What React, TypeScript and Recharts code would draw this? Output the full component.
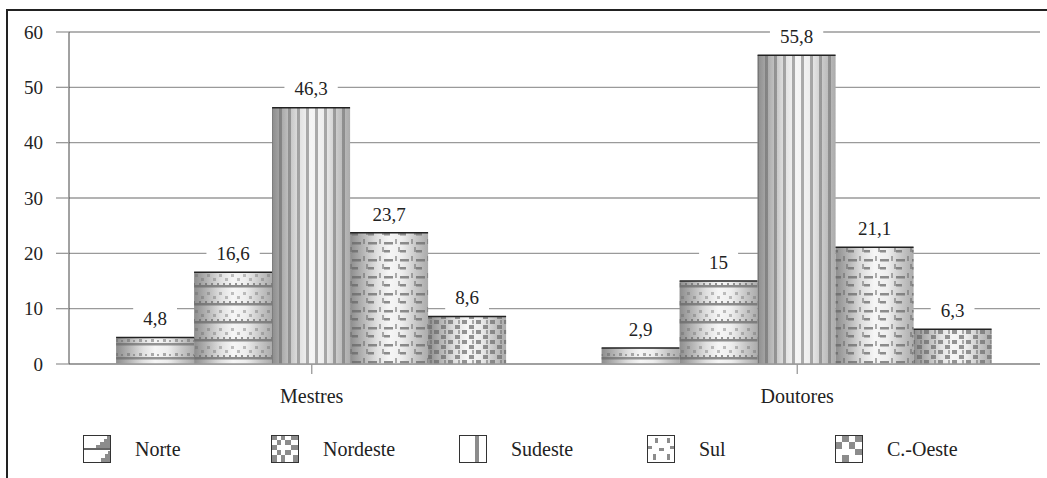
import React from 'react';
import { BarChart, Bar, XAxis, YAxis, CartesianGrid, LabelList, Legend } from 'recharts';

const categories = ['Mestres', 'Doutores'];
const seriesNames = ['Norte', 'Nordeste', 'Sudeste', 'Sul', 'C.-Oeste'];
const seriesKeys = ['norte', 'nordeste', 'sudeste', 'sul', 'coeste'];
const norte = [4.8, 2.9];
const nordeste = [16.6, 15];
const sudeste = [46.3, 55.8];
const sul = [23.7, 21.1];
const cOeste = [8.6, 6.3];
const yTicks = [0, 10, 20, 30, 40, 50, 60];

const seriesValues = [norte, nordeste, sudeste, sul, cOeste];
const data = categories.map((c, i) => {
  const row: any = { name: c };
  seriesKeys.forEach((k, j) => { row[k] = seriesValues[j][i]; });
  return row;
});

const FONT = 'Liberation Serif';
const MARK = '#7a7a7a';

const makeShape = (pid: string) => (p: any) => {
  const { x, y, width, height } = p;
  if (!height || height <= 0) return <g />;
  return (
    <g>
      <rect x={x} y={y} width={width} height={height} fill="url(#cyl)" />
      <rect x={x} y={y} width={width} height={height} fill={`url(#pat-${pid})`} />
      <rect x={x} y={y} width={width} height={height} fill="url(#shade)" />
      <line x1={x} x2={x + width} y1={y} y2={y} stroke="#222" strokeWidth={1.5} />
    </g>
  );
};

const renderLabel = (props: any) => {
  const { x, y, width, value } = props;
  const s = String(value).replace('.', ',');
  const tw = s.split('').reduce((a: number, ch: string) => a + (ch === ',' ? 4.8 : 9.5), 0);
  const bw = tw + 20;
  const bh = 26;
  const cx = Number(x) + Number(width) / 2;
  const cy = Number(y) - 19;
  return (
    <g>
      <rect x={cx - bw / 2} y={cy - bh / 2} width={bw} height={bh} fill="#fff" />
      <text x={cx} y={cy} dy="0.35em" textAnchor="middle" style={{ fontFamily: FONT }} fontSize={19} fill="#222">
        {s}
      </text>
    </g>
  );
};

const LegendIcon = ({ k }: { k: string }) => {
  const g = '#8c8c8c';
  let inner: React.ReactNode = null;
  if (k === 'norte') {
    inner = (
      <g fill={g}>
        <polygon points="27,1 27,13 13,13 13,10 17,10 17,7 21,7 21,4 24,4 24,1" />
        <rect x={1} y={13} width={26} height={2} fill="#666" />
        <polygon points="27,16 27,27 18,27 18,23 22,23 22,19 25,19 25,16" />
      </g>
    );
  } else if (k === 'nordeste') {
    inner = (
      <g fill={g}>
        <rect x={1} y={1} width={5} height={4} />
        <rect x={10} y={1} width={4} height={4} />
        <rect x={20} y={1} width={7} height={4} />
        <rect x={6} y={5} width={4} height={5} />
        <rect x={14} y={5} width={6} height={5} />
        <rect x={1} y={10} width={5} height={5} />
        <rect x={20} y={10} width={7} height={5} />
        <rect x={6} y={15} width={4} height={5} />
        <rect x={14} y={15} width={6} height={5} />
        <rect x={1} y={20} width={5} height={7} />
        <rect x={10} y={20} width={4} height={7} />
        <rect x={22} y={20} width={5} height={7} />
      </g>
    );
  } else if (k === 'sudeste') {
    inner = <rect x={16} y={1} width={4} height={26} fill={g} />;
  } else if (k === 'sul') {
    inner = (
      <g fill={g}>
        <rect x={8} y={3} width={3} height={5} />
        <rect x={20} y={3} width={3} height={5} />
        <rect x={1} y={11} width={4} height={3} />
        <rect x={23} y={11} width={4} height={3} />
        <rect x={12} y={13} width={5} height={3} />
        <rect x={6} y={19} width={3} height={6} />
        <rect x={20} y={19} width={3} height={6} />
      </g>
    );
  } else {
    inner = (
      <g fill={g}>
        <rect x={7} y={1} width={7} height={6} />
        <rect x={20} y={1} width={7} height={6} />
        <rect x={1} y={7} width={6} height={7} />
        <rect x={14} y={7} width={6} height={7} />
        <rect x={20} y={14} width={7} height={6} />
        <rect x={7} y={20} width={7} height={7} />
      </g>
    );
  }
  return (
    <svg width={28} height={28} style={{ display: 'block' }}>
      <rect x={0.5} y={0.5} width={27} height={27} fill="#fff" stroke="#333" strokeWidth={1} />
      {inner}
      <rect x={0.5} y={0.5} width={27} height={27} fill="none" stroke="#333" strokeWidth={1} />
    </svg>
  );
};

const renderLegend = () => (
  <div style={{ display: 'flex', alignItems: 'center', height: 50, paddingLeft: 83, boxSizing: 'border-box' }}>
    {seriesNames.map((n, i) => (
      <div key={n} style={{ width: 188, display: 'flex', alignItems: 'center' }}>
        <LegendIcon k={seriesKeys[i]} />
        <span style={{ marginLeft: 24, fontFamily: FONT, fontSize: 20, color: '#222' }}>{n}</span>
      </div>
    ))}
  </div>
);

const yTickStyle = { fontSize: 19, fill: '#222', style: { fontFamily: FONT } };
const xTickStyle = { fontSize: 20, fill: '#222', style: { fontFamily: FONT } };

export default function App() {
  return (
    <div style={{ position: 'absolute', left: 0, top: 0, width: 1047, height: 478, overflow: 'hidden', background: '#fff', fontFamily: FONT }}>
      <BarChart
        width={1047}
        height={478}
        data={data}
        margin={{ top: 32, right: 7, bottom: 4, left: 0 }}
        barCategoryGap="9.7%"
        barGap={0}
      >
        <defs>
          <linearGradient id="cyl" x1="0" y1="0" x2="1" y2="0">
            <stop offset="0" stopColor="#a0a0a0" />
            <stop offset="0.12" stopColor="#b8b8b8" />
            <stop offset="0.3" stopColor="#dadada" />
            <stop offset="0.5" stopColor="#f6f6f6" />
            <stop offset="0.66" stopColor="#eeeeee" />
            <stop offset="0.85" stopColor="#cccccc" />
            <stop offset="1" stopColor="#b6b6b6" />
          </linearGradient>
          <linearGradient id="shade" x1="0" y1="0" x2="1" y2="0">
            <stop offset="0" stopColor="#000" stopOpacity={0.12} />
            <stop offset="0.35" stopColor="#000" stopOpacity={0} />
            <stop offset="0.7" stopColor="#000" stopOpacity={0} />
            <stop offset="1" stopColor="#000" stopOpacity={0.06} />
          </linearGradient>
          <pattern id="pat-norte" patternUnits="userSpaceOnUse" width={12} height={14}>
            <rect x={0} y={7} width={12} height={2.5} fill={MARK} opacity={0.8} />
            <rect x={1} y={4} width={2} height={2} fill={MARK} opacity={0.6} />
            <rect x={7} y={3} width={3} height={3} fill={MARK} opacity={0.6} />
          </pattern>
          <pattern id="pat-nordeste" patternUnits="userSpaceOnUse" width={12} height={18}>
            <rect x={0} y={15} width={12} height={2.5} fill={MARK} opacity={0.85} />
            <rect x={1} y={13} width={2} height={2} fill={MARK} opacity={0.8} />
            <rect x={7} y={13} width={2} height={2} fill={MARK} opacity={0.8} />
            <rect x={3} y={4} width={3} height={3} fill={MARK} opacity={0.45} />
            <rect x={9} y={8} width={3} height={3} fill={MARK} opacity={0.45} />
          </pattern>
          <pattern id="pat-sudeste" patternUnits="userSpaceOnUse" width={9} height={10}>
            <rect x={0} y={0} width={3} height={10} fill="#6e6e6e" opacity={0.55} />
          </pattern>
          <pattern id="pat-sul" patternUnits="userSpaceOnUse" width={16} height={17}>
            <rect x={0} y={4} width={9} height={2.5} fill={MARK} opacity={0.85} />
            <rect x={0} y={12} width={6} height={2.5} fill={MARK} opacity={0.85} />
            <rect x={11} y={1} width={2} height={5} fill={MARK} opacity={0.6} />
            <rect x={14} y={9} width={2} height={5} fill={MARK} opacity={0.6} />
          </pattern>
          <pattern id="pat-coeste" patternUnits="userSpaceOnUse" width={14} height={10}>
            <rect x={0} y={0} width={5} height={4} fill={MARK} opacity={0.8} />
            <rect x={7} y={5} width={5} height={4} fill={MARK} opacity={0.8} />
            <rect x={10} y={0} width={2} height={4} fill={MARK} opacity={0.6} />
          </pattern>
        </defs>
        <path d="M7,478 L7,10 L1047,10" stroke="#222" strokeWidth={2} fill="none" />
        <CartesianGrid vertical={false} stroke="#9a9a9a" strokeWidth={1.3} />
        <XAxis
          dataKey="name"
          height={60}
          axisLine={{ stroke: '#9a9a9a', strokeWidth: 1.3 }}
          tickLine={{ stroke: '#9a9a9a', strokeWidth: 1.3 }}
          tickSize={10}
          tickMargin={15}
          tick={xTickStyle}
        />
        <YAxis
          width={69}
          domain={[0, 60]}
          ticks={yTicks}
          interval={0}
          axisLine={{ stroke: '#444', strokeWidth: 1 }}
          tickLine={{ stroke: '#9a9a9a', strokeWidth: 1.3 }}
          tickSize={13}
          tickMargin={13}
          tick={yTickStyle}
        />
        <Legend verticalAlign="bottom" height={50} content={renderLegend} />
        {seriesKeys.map((k, i) => (
          <Bar key={k} dataKey={k} name={seriesNames[i]} fill="#ccc" isAnimationActive={false} shape={makeShape(k)}>
            <LabelList dataKey={k} content={renderLabel} />
          </Bar>
        ))}
      </BarChart>
    </div>
  );
}
